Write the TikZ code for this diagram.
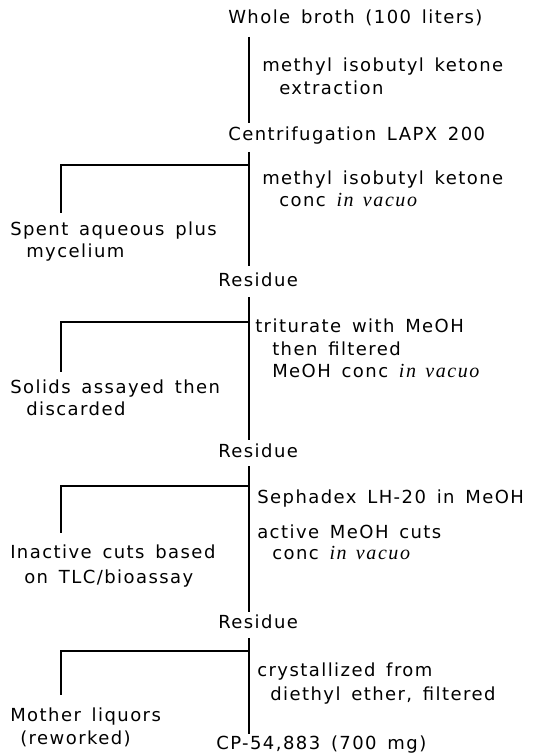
\documentclass[tikz,border=0pt]{standalone}
\usepackage{fontspec}
\setmainfont{DejaVu Sans}[LetterSpace=8,WordSpace=1.5]
\newfontfamily\serfam{Liberation Serif}[LetterSpace=8,WordSpace=1.4]
\newcommand{\vac}{{\serfam\itshape\fontsize{15}{17}\selectfont in vacuo}}
\begin{document}
\begin{tikzpicture}[x=0.75pt,y=-0.75pt,
  lbl/.style={anchor=mid west, inner sep=0pt, font=\fontsize{13.5}{16}\selectfont},
  ln/.style={line width=1.2pt}]
\useasboundingbox (0,0) rectangle (537,756);
% spine and branch coordinates
\coordinate (a1) at (249,37);  \coordinate (a2) at (249,123);
\coordinate (b1) at (249,152); \coordinate (b2) at (249,266);
\coordinate (bb) at (249,165); \coordinate (bl) at (61,165); \coordinate (bd) at (61,213);
\coordinate (c1) at (249,297); \coordinate (c2) at (249,440);
\coordinate (cb) at (249,322); \coordinate (cl) at (61,322); \coordinate (cd) at (61,372);
\coordinate (d1) at (249,466); \coordinate (d2) at (249,612);
\coordinate (db) at (249,486); \coordinate (dl) at (61,486); \coordinate (dd) at (61,533);
\coordinate (e1) at (249,638); \coordinate (e2) at (249,734);
\coordinate (eb) at (249,651); \coordinate (el) at (61,651); \coordinate (ed) at (61,695);

\node[lbl] (wb) at (228,20) {Whole broth (100 liters)};
\node[lbl] (m1a) at (262,68) {methyl isobutyl ketone};
\node[lbl] (m1b) at (279,91) {extraction};
\node[lbl] (cf) at (228,137) {Centrifugation LAPX 200};
\node[lbl] (m2a) at (262,181) {methyl isobutyl ketone};
\node[lbl] (m2b) at (279,203) {conc \vac};
\node[lbl] (spa) at (10,232) {Spent aqueous plus};
\node[lbl] (spb) at (26,254) {mycelium};
\node[lbl] (r1) at (218,283) {Residue};
\node[lbl] (t1) at (255,329) {triturate with MeOH};
\node[lbl] (t2) at (272,352) {then filtered};
\node[lbl] (t3) at (272,374) {MeOH conc \vac};
\node[lbl] (sa) at (10,390) {Solids assayed then};
\node[lbl] (sb) at (26,412) {discarded};
\node[lbl] (r2) at (218,454) {Residue};
\node[lbl] (sx) at (257,500) {Sephadex LH-20 in MeOH};
\node[lbl] (ac1) at (257,535) {active MeOH cuts};
\node[lbl] (ac2) at (272,556) {conc \vac};
\node[lbl] (ia) at (10,555) {Inactive cuts based};
\node[lbl] (ib) at (24,580) {on TLC/bioassay};
\node[lbl] (r3) at (218,625) {Residue};
\node[lbl] (cr1) at (257,673) {crystallized from};
\node[lbl] (cr2) at (270,697) {diethyl ether, filtered};
\node[lbl] (ma) at (10,718) {Mother liquors};
\node[lbl] (mb) at (20,741) {(reworked)};
\node[lbl] (cp) at (216,746) {CP-54,883 (700 mg)};

\draw[ln] (a1) -- (a2);
\draw[ln] (b1) -- (b2);
\draw[ln] (bb) -- (bl) -- (bd);
\draw[ln] (c1) -- (c2);
\draw[ln] (cb) -- (cl) -- (cd);
\draw[ln] (d1) -- (d2);
\draw[ln] (db) -- (dl) -- (dd);
\draw[ln] (e1) -- (e2);
\draw[ln] (eb) -- (el) -- (ed);
\end{tikzpicture}
\end{document}
